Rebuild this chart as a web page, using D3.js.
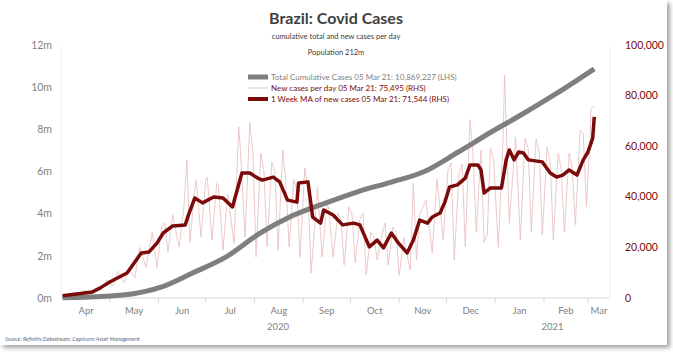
<!DOCTYPE html>
<html>
<head>
<meta charset="utf-8">
<script src="https://cdn.jsdelivr.net/npm/d3@7"></script>
<style>
  body { margin: 0; background: #ffffff; }
  svg { display: block; font-family: Lato, "Open Sans", sans-serif; }
</style>
</head>
<body>
<div id="chart"></div>
<script>
// cumulative total cases (millions, LHS)
let cumDates = ["2020-04-01", "2020-05-01", "2020-05-16", "2020-06-02", "2020-06-23", "2020-07-14",
  "2020-08-04", "2020-08-25", "2020-09-15", "2020-10-06", "2020-10-27", "2020-11-17", "2020-12-08",
  "2020-12-29", "2021-01-19", "2021-02-09", "2021-03-05"]
let cumValues = [0.006, 0.09, 0.2, 0.5, 1.2, 1.95, 3.05, 3.9, 4.5, 5.05, 5.5, 6.0, 6.9, 7.85, 8.75, 9.7, 10.869]

// new cases per day (RHS)
let dailyDates = ["2020-04-01", "2020-04-05", "2020-04-08", "2020-04-12", "2020-04-15", "2020-04-19", "2020-04-22",
  "2020-04-26", "2020-04-29", "2020-05-03", "2020-05-06", "2020-05-10", "2020-05-13", "2020-05-17", "2020-05-20",
  "2020-05-24", "2020-05-28", "2020-05-31", "2020-06-03", "2020-06-05", "2020-06-07", "2020-06-10", "2020-06-14",
  "2020-06-17", "2020-06-19", "2020-06-21", "2020-06-24", "2020-06-25", "2020-06-28", "2020-07-01", "2020-07-02",
  "2020-07-05", "2020-07-08", "2020-07-09", "2020-07-12", "2020-07-15", "2020-07-19", "2020-07-22", "2020-07-23",
  "2020-07-26", "2020-07-29", "2020-07-31", "2020-08-02", "2020-08-05", "2020-08-07", "2020-08-09", "2020-08-12",
  "2020-08-14", "2020-08-16", "2020-08-19", "2020-08-21", "2020-08-23", "2020-08-26", "2020-08-28", "2020-08-30",
  "2020-09-02", "2020-09-04", "2020-09-06", "2020-09-09", "2020-09-10", "2020-09-13", "2020-09-16", "2020-09-17",
  "2020-09-20", "2020-09-23", "2020-09-25", "2020-09-27", "2020-09-30", "2020-10-02", "2020-10-04", "2020-10-07",
  "2020-10-09", "2020-10-11", "2020-10-14", "2020-10-16", "2020-10-18", "2020-10-21", "2020-10-23", "2020-10-25",
  "2020-10-28", "2020-10-30", "2020-11-01", "2020-11-04", "2020-11-05", "2020-11-08", "2020-11-10", "2020-11-12",
  "2020-11-14", "2020-11-18", "2020-11-22", "2020-11-25", "2020-11-29", "2020-12-02", "2020-12-04", "2020-12-06",
  "2020-12-09", "2020-12-11", "2020-12-13", "2020-12-16", "2020-12-18", "2020-12-20", "2020-12-23", "2020-12-25",
  "2020-12-27", "2020-12-29", "2020-12-31", "2021-01-03", "2021-01-06", "2021-01-07", "2021-01-10", "2021-01-14",
  "2021-01-17", "2021-01-20", "2021-01-22", "2021-01-24", "2021-01-27", "2021-01-29", "2021-01-31", "2021-02-03",
  "2021-02-05", "2021-02-07", "2021-02-10", "2021-02-12", "2021-02-14", "2021-02-17", "2021-02-19", "2021-02-21",
  "2021-02-24", "2021-02-26", "2021-02-28", "2021-03-02", "2021-03-03", "2021-03-04", "2021-03-05"]
let dailyValues = [1100, 800, 2200, 1200, 3100, 1900, 3700,
  3400, 7200, 4600, 10600, 6000, 11400, 8000, 20000,
  12000, 26000, 12000, 28500, 29600, 18000, 33000, 20000,
  34900, 54500, 22100, 42700, 46600, 24100, 46700, 47800,
  22900, 45300, 44700, 19000, 41000, 21700, 67600, 59000,
  24000, 69200, 57800, 16200, 57300, 50000, 20200, 53800,
  50000, 19000, 58500, 45000, 20200, 47000, 42000, 16000,
  51400, 43000, 9900, 35000, 43900, 16200, 36800, 36000,
  16200, 33500, 31000, 13000, 36000, 33000, 14000, 31000,
  33600, 9100, 26100, 24000, 15000, 24800, 29600, 13000,
  28000, 26000, 9000, 23900, 20000, 11000, 45500, 15000,
  33000, 38700, 17800, 47000, 22900, 50600, 53400, 15000,
  49000, 53000, 20200, 70400, 56000, 26000, 58500, 22000,
  25000, 59300, 55000, 20000, 63000, 88100, 29600, 63600,
  22900, 63200, 59000, 26000, 63000, 57300, 24900, 59700,
  54000, 22900, 57300, 51000, 26100, 57300, 51000, 29000,
  66400, 65000, 36000, 59000, 75000, 75500, 75495]

// 1 week moving average of new cases (RHS)
let maDates = ["2020-04-01", "2020-04-20", "2020-04-25", "2020-05-01", "2020-05-12", "2020-05-21", "2020-05-26",
  "2020-05-31", "2020-06-04", "2020-06-10", "2020-06-18", "2020-06-20", "2020-06-24", "2020-06-29", "2020-07-06",
  "2020-07-12", "2020-07-18", "2020-07-24", "2020-07-29", "2020-08-03", "2020-08-06", "2020-08-13", "2020-08-17",
  "2020-08-22", "2020-08-28", "2020-08-29", "2020-09-04", "2020-09-07", "2020-09-12", "2020-09-14", "2020-09-20",
  "2020-09-26", "2020-10-03", "2020-10-07", "2020-10-13", "2020-10-18", "2020-10-22", "2020-10-27", "2020-10-31",
  "2020-11-06", "2020-11-10", "2020-11-14", "2020-11-19", "2020-11-22", "2020-11-27", "2020-11-30", "2020-12-03",
  "2020-12-08", "2020-12-13", "2020-12-16", "2020-12-21", "2020-12-23", "2020-12-25", "2020-12-29", "2021-01-05",
  "2021-01-08", "2021-01-10", "2021-01-13", "2021-01-16", "2021-01-19", "2021-01-22", "2021-01-31", "2021-02-05",
  "2021-02-09", "2021-02-13", "2021-02-17", "2021-02-22", "2021-02-26", "2021-03-01", "2021-03-04", "2021-03-05"]
let maValues = [900, 2400, 4000, 6300, 9900, 17800, 18200,
  21700, 25700, 28500, 28900, 32800, 39500, 37600, 39900,
  39500, 36000, 49400, 49400, 47400, 46600, 47800, 45900,
  38700, 37900, 45500, 45900, 32000, 29600, 34800, 32800,
  28900, 29600, 28900, 20200, 22900, 19800, 25700, 22100,
  17800, 22900, 30800, 29600, 32000, 33600, 37900, 43900,
  44700, 47400, 52600, 52600, 50600, 41500, 43500, 43500,
  54600, 58500, 54600, 57700, 57300, 54600, 53800, 49400,
  47800, 48600, 50600, 48600, 54600, 57700, 63200, 71544]

let leftTicks = [0, 2, 4, 6, 8, 10, 12]
let rightTicks = [0, 20000, 40000, 60000, 80000, 100000]
let years = ["2020", "2021"]

let legendLabels = ["Total Cumulative Cases 05 Mar 21: 10,869,227 (LHS)",
  "New cases per day 05 Mar 21: 75,495 (RHS)",
  "1 Week MA of new cases 05 Mar 21: 71,544 (RHS)"]

let width = 673, height = 352
let plot = { left: 61, right: 610, top: 45, bottom: 298 }
let grey = "#7f7f7f", darkRed = "#7b0a0a", pink = "#e9c3c3"

let parse = d3.timeParse("%Y-%m-%d")

let svg = d3.select("#chart").append("svg")
  .attr("width", width)
  .attr("height", height)

// frame with a soft shadow
let defs = svg.append("defs")
let f = defs.append("filter").attr("id", "shadow").attr("x", "-5%").attr("y", "-5%").attr("width", "110%").attr("height", "115%")
f.append("feDropShadow").attr("dx", 3).attr("dy", 3).attr("stdDeviation", 2).attr("flood-color", "#000").attr("flood-opacity", 0.35)

svg.append("rect")
  .attr("x", 0).attr("y", 0)
  .attr("width", 667).attr("height", 345)
  .attr("fill", "#ffffff")
  .attr("filter", "url(#shadow)")

let x = d3.scaleTime()
  .domain([parse("2020-03-31"), parse("2021-03-15")])
  .range([plot.left, plot.right])

let yL = d3.scaleLinear().domain([0, 12]).range([plot.bottom, plot.top])
let yR = d3.scaleLinear().domain([0, 100000]).range([plot.bottom, plot.top])

// faint axis frame
svg.append("line")
  .attr("x1", plot.left).attr("x2", plot.left)
  .attr("y1", plot.top).attr("y2", plot.bottom)
  .attr("stroke", "#f0f0f0")
svg.append("line")
  .attr("x1", plot.right).attr("x2", plot.right)
  .attr("y1", plot.top).attr("y2", plot.bottom)
  .attr("stroke", "#f0f0f0")

// left axis
svg.append("g")
  .selectAll("text")
  .data(leftTicks)
  .enter().append("text")
  .attr("x", 52)
  .attr("y", d => yL(d))
  .attr("dy", "0.35em")
  .attr("text-anchor", "end")
  .attr("font-size", 10.5)
  .attr("fill", grey)
  .text(d => d + "m")

// right axis
svg.append("g")
  .selectAll("text")
  .data(rightTicks)
  .enter().append("text")
  .attr("x", 625)
  .attr("y", d => yR(d))
  .attr("dy", "0.35em")
  .attr("text-anchor", "start")
  .attr("font-size", 10.5)
  .attr("fill", darkRed)
  .text(d => d3.format(",")(d))

// x axis, month ticks at boundaries, labels centred in each month
let xd = x.domain()
svg.append("line")
  .attr("x1", plot.left).attr("x2", plot.right)
  .attr("y1", plot.bottom).attr("y2", plot.bottom)
  .attr("stroke", "#d9d9d9")

let monthStarts = d3.timeMonth.range(d3.timeMonth.ceil(xd[0]), xd[1])
svg.append("g")
  .selectAll("line")
  .data(monthStarts.slice(1))
  .enter().append("line")
  .attr("x1", d => x(d)).attr("x2", d => x(d))
  .attr("y1", plot.bottom).attr("y2", plot.bottom + 5)
  .attr("stroke", "#d9d9d9")

svg.append("g")
  .selectAll("text")
  .data(monthStarts)
  .enter().append("text")
  .attr("x", function(d) {
    let a = Math.max(x(d), plot.left)
    let b = Math.min(x(d3.timeMonth.offset(d, 1)), plot.right)
    return (a + b) / 2
  })
  .attr("y", 314)
  .attr("text-anchor", "middle")
  .attr("font-size", 9.5)
  .attr("fill", grey)
  .text(d => d3.timeFormat("%b")(d))

svg.append("g")
  .selectAll("text")
  .data(years)
  .enter().append("text")
  .attr("x", function(d) {
    let a = Math.max(x(parse(d + "-01-01")), plot.left)
    let b = Math.min(x(parse((+d + 1) + "-01-01")), plot.right)
    return (a + b) / 2
  })
  .attr("y", 330)
  .attr("text-anchor", "middle")
  .attr("font-size", 9.5)
  .attr("fill", grey)
  .text(d => d)

// series
let daily = dailyDates.map((d, i) => ({ date: parse(d), v: dailyValues[i] }))
let ma = maDates.map((d, i) => ({ date: parse(d), v: maValues[i] }))
let cum = cumDates.map((d, i) => ({ date: parse(d), v: cumValues[i] }))

let lineR = d3.line().x(d => x(d.date)).y(d => yR(d.v))
let lineL = d3.line().curve(d3.curveMonotoneX).x(d => x(d.date)).y(d => yL(d.v))

svg.append("path")
  .datum(daily)
  .attr("d", lineR)
  .attr("fill", "none")
  .attr("stroke", pink)
  .attr("stroke-width", 0.9)

svg.append("path")
  .datum(cum)
  .attr("d", lineL)
  .attr("fill", "none")
  .attr("stroke", grey)
  .attr("stroke-width", 5)

svg.append("path")
  .datum(ma)
  .attr("d", lineR)
  .attr("fill", "none")
  .attr("stroke", darkRed)
  .attr("stroke-width", 3.5)
  .attr("stroke-linejoin", "round")

// title block
svg.append("text")
  .attr("x", 336).attr("y", 24)
  .attr("text-anchor", "middle")
  .attr("font-size", 16)
  .attr("font-weight", "bold")
  .attr("fill", "#404040")
  .text("Brazil: Covid Cases")

svg.append("text")
  .attr("x", 336).attr("y", 39)
  .attr("text-anchor", "middle")
  .attr("font-size", 7.5)
  .attr("fill", "#404040")
  .text("cumulative total and new cases per day")

svg.append("text")
  .attr("x", 336).attr("y", 55)
  .attr("text-anchor", "middle")
  .attr("font-size", 7.5)
  .attr("fill", "#404040")
  .text("Population 212m")

// legend
let legend = svg.selectAll(".legend")
  .data(legendLabels)
  .enter().append("g")
  .attr("class", "legend")
  .attr("transform", (d, i) => "translate(248," + (77 + i * 11) + ")")

legend.append("line")
  .attr("x1", 0).attr("x2", 20)
  .attr("stroke", (d, i) => [grey, pink, darkRed][i])
  .attr("stroke-width", (d, i) => [5, 1, 4][i])

legend.append("text")
  .attr("x", 23)
  .attr("dy", "0.35em")
  .attr("font-size", 8)
  .attr("fill", (d, i) => i == 0 ? grey : darkRed)
  .text(d => d)

svg.append("text")
  .attr("x", 5).attr("y", 341)
  .attr("font-size", 5.5)
  .attr("font-style", "italic")
  .attr("fill", "#5a6b8c")
  .text("Source: Refinitiv Datastream, Capricorn Asset Management")
</script>
</body>
</html>
